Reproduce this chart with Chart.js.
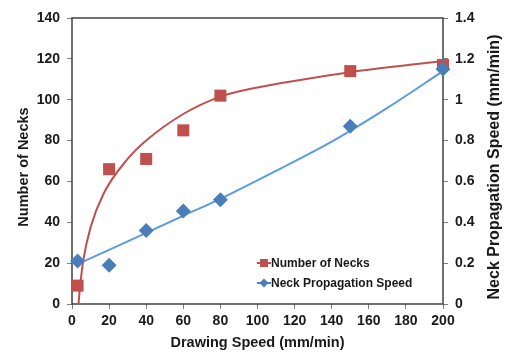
<!DOCTYPE html>
<html>
<head>
<meta charset="utf-8">
<script src="https://cdn.jsdelivr.net/npm/chart.js@4.4.0/dist/chart.umd.min.js"></script>
<style>
  html, body { margin: 0; padding: 0; background: #fff; }
</style>
</head>
<body>
<canvas id="myChart" width="505" height="352"></canvas>
<script>
const ctx = document.getElementById('myChart');

// measured points
const speeds = [3, 20, 40, 60, 80, 150, 200];
const necks = [9, 66, 71, 85, 102, 114, 117];
const propSpeed = [0.21, 0.19, 0.36, 0.455, 0.51, 0.87, 1.15];

// trend lines
const neckTrendX = [3.5, 4.3, 6, 10, 17, 30, 40, 60, 80, 100, 123, 150, 200];
const neckTrendY = [0, 8, 21, 37.5, 54, 71, 80, 93, 101.5, 106, 109.7, 113.5, 119];
const speedTrendX = [3, 20, 42, 60, 80, 110, 141, 170, 200];
const speedTrendY = [0.195, 0.265, 0.357, 0.432, 0.515, 0.652, 0.80, 0.96, 1.14];

const xTicks = [0, 20, 40, 60, 80, 100, 120, 140, 160, 180, 200];
const leftTitle = 'Number of Necks';
const rightTitle = 'Neck Propagation Speed (mm/min)';

const RED = '#C0504D';
const BLUE = '#4A7EBB';
const BLUE_LINE = '#5B9BE0';
const FONT = 'Liberation Sans, Arial, sans-serif';
const INK = '#1a1a1a';

const pts = (xs, ys) => xs.map((x, i) => ({ x: x, y: ys[i] }));

const frame = {
    id: 'frame',
    beforeDatasetsDraw(chart) {
        const a = chart.chartArea;
        const c = chart.ctx;
        c.save();
        c.strokeStyle = '#404040';
        c.lineWidth = 1.5;
        c.strokeRect(a.left, a.top, a.right - a.left, a.bottom - a.top);
        c.restore();
    }
};

// both y titles read bottom-to-top, as in the source chart
const sideTitles = {
    id: 'sideTitles',
    afterDraw(chart) {
        const c = chart.ctx;
        const put = (text, x, y, size) => {
            c.save();
            c.translate(x, y);
            c.rotate(-Math.PI / 2);
            c.font = 'bold ' + size + 'px ' + FONT;
            c.fillStyle = INK;
            c.textAlign = 'center';
            c.textBaseline = 'middle';
            c.fillText(text, 0, 0);
            c.restore();
        };
        put(leftTitle, 24, 167, 14.5);
        put(rightTitle, 495, 167, 16);
    }
};

const innerLegend = {
    id: 'innerLegend',
    afterDraw(chart) {
        const c = chart.ctx;
        const items = [
            { ds: chart.data.datasets[0], y: 263 },
            { ds: chart.data.datasets[1], y: 283 }
        ];
        c.save();
        items.forEach(it => {
            const color = it.ds.backgroundColor;
            c.strokeStyle = color;
            c.lineWidth = 2;
            c.beginPath();
            c.moveTo(257, it.y);
            c.lineTo(271, it.y);
            c.stroke();
            c.fillStyle = color;
            c.beginPath();
            if (it.ds.pointStyle === 'rect') {
                c.rect(260, it.y - 4, 8, 8);
            } else {
                c.moveTo(264, it.y - 4.5);
                c.lineTo(268.5, it.y);
                c.lineTo(264, it.y + 4.5);
                c.lineTo(259.5, it.y);
                c.closePath();
            }
            c.fill();
            c.fillStyle = INK;
            c.font = 'bold 12px ' + FONT;
            c.textBaseline = 'middle';
            c.textAlign = 'left';
            c.fillText(it.ds.label, 271, it.y + 0.5);
        });
        c.restore();
    }
};

const tickFont = { family: FONT, size: 14, weight: 'bold' };

new Chart(ctx, {
    type: 'scatter',
    data: {
        datasets: [
            {
                label: 'Number of Necks',
                data: pts(speeds, necks),
                yAxisID: 'y',
                pointStyle: 'rect',
                pointRadius: 8.5,
                backgroundColor: RED,
                borderColor: RED,
                borderWidth: 0,
                clip: false,
                order: 1
            },
            {
                label: 'Neck Propagation Speed',
                data: pts(speeds, propSpeed),
                yAxisID: 'y1',
                pointStyle: 'rectRot',
                pointRadius: 7.5,
                backgroundColor: BLUE,
                borderColor: BLUE,
                borderWidth: 0,
                clip: false,
                order: 0
            },
            {
                label: 'necks trend',
                type: 'line',
                data: pts(neckTrendX, neckTrendY),
                yAxisID: 'y',
                borderColor: RED,
                borderWidth: 2,
                pointRadius: 0,
                fill: false,
                cubicInterpolationMode: 'monotone',
                clip: false,
                order: 3
            },
            {
                label: 'speed trend',
                type: 'line',
                data: pts(speedTrendX, speedTrendY),
                yAxisID: 'y1',
                borderColor: BLUE_LINE,
                borderWidth: 2,
                pointRadius: 0,
                fill: false,
                cubicInterpolationMode: 'monotone',
                clip: false,
                order: 2
            }
        ]
    },
    options: {
        responsive: false,
        animation: false,
        layout: { padding: { top: 18, left: 0, right: 0, bottom: 0 } },
        plugins: {
            legend: { display: false },
            tooltip: { enabled: false }
        },
        scales: {
            x: {
                type: 'linear',
                min: 0,
                max: 200,
                afterBuildTicks: s => { s.ticks = xTicks.map(v => ({ value: v })); },
                afterFit: s => { s.height = 48; },
                border: { display: false },
                grid: { drawOnChartArea: false, drawTicks: true, tickLength: 5, color: '#808080' },
                ticks: { color: INK, font: tickFont, padding: 4, maxRotation: 0 },
                title: {
                    display: true,
                    text: 'Drawing Speed (mm/min)',
                    color: INK,
                    font: { family: FONT, size: 14.5, weight: 'bold' },
                    padding: { top: 0, bottom: 0 }
                }
            },
            y: {
                position: 'left',
                min: 0,
                max: 140,
                afterFit: s => { s.width = 72; },
                border: { display: false },
                grid: { drawOnChartArea: false, drawTicks: true, tickLength: 5, color: '#808080' },
                ticks: { stepSize: 20, color: INK, font: tickFont, padding: 7 }
            },
            y1: {
                position: 'right',
                min: 0,
                max: 1.4,
                afterFit: s => { s.width = 62; },
                border: { display: false },
                grid: { drawOnChartArea: false, drawTicks: true, tickLength: 5, color: '#808080' },
                ticks: {
                    stepSize: 0.2,
                    color: INK,
                    font: tickFont,
                    padding: 7,
                    callback: v => String(Number(v.toFixed(1)))
                }
            }
        }
    },
    plugins: [frame, sideTitles, innerLegend]
});
</script>
</body>
</html>
